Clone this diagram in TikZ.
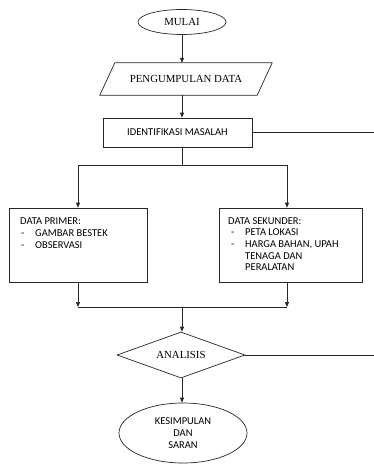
\documentclass[tikz,border=0pt]{standalone}
\usepackage{fontspec}
\newfontfamily\tnr{Liberation Serif}
\newfontfamily\calib{Carlito}
\usetikzlibrary{shapes.geometric,arrows.meta}
\tikzset{
  ln/.style={line width=0.7pt, draw=black!85},
  arr/.style={ln, -{Triangle[length=5pt,width=4pt]}},
  serifnode/.style={font={\tnr\fontsize{10.8}{13}\selectfont}},
  calnode/.style={font={\calib\fontsize{10.5}{11.7}\selectfont}},
  boxshape/.style={ln, rectangle, inner sep=0pt},
}
\begin{document}
\begin{tikzpicture}[x=1pt,y=-1pt]
\useasboundingbox (0,0) rectangle (374,464);
% MULAI
\node[ln, ellipse, minimum width=88pt, minimum height=25pt, inner sep=0pt, serifnode] (mulai) at (182,22) {MULAI};
% PENGUMPULAN DATA (parallelogram)
\node[minimum width=157pt, minimum height=32pt, inner sep=0pt, serifnode] (peng) at (186,79) {PENGUMPULAN DATA};
\draw[ln] ([xshift=-7.5pt]peng.south west) -- ([xshift=7.5pt]peng.north west) -- ([xshift=7.5pt]peng.north east) -- ([xshift=-7.5pt]peng.south east) -- cycle;
% IDENTIFIKASI MASALAH
\node[boxshape, minimum width=149pt, minimum height=29pt, calnode] (ident) at (177.5,132.5) {IDENTIFIKASI MASALAH};
\coordinate (identout) at (374,132.5);
% split
\coordinate (split) at (182,165);
\coordinate (splitL) at (78,165);
\coordinate (splitR) at (287,165);
% boxes
\node[boxshape, minimum width=138pt, minimum height=74pt] (prim) at (78,245) {};
\node[boxshape, minimum width=143pt, minimum height=74pt] (sek) at (290.5,245) {};
\node[calnode, anchor=north west, inner sep=0pt, align=left] (primtext) at (20,218)
  {DATA PRIMER:\\
   \hspace*{1pt}\makebox[14pt][l]{-}GAMBAR BESTEK\\
   \hspace*{1pt}\makebox[14pt][l]{-}OBSERVASI};
\node[calnode, anchor=north west, inner sep=0pt, align=left] (sektext) at (228,217)
  {DATA SEKUNDER:\\
   \hspace*{3pt}\makebox[14pt][l]{-}PETA LOKASI\\
   \hspace*{3pt}\makebox[14pt][l]{-}HARGA BAHAN, UPAH\\
   \hspace*{17pt}TENAGA DAN\\
   \hspace*{17pt}PERALATAN};
% merge
\coordinate (merge) at (182,307);
\coordinate (mergeL) at (78,307);
\coordinate (mergeR) at (287,307);
% ANALISIS
\node[ln, diamond, aspect=2.78, minimum width=128pt, minimum height=46pt, inner sep=0pt, serifnode] (anal) at (181,355) {ANALISIS};
\coordinate (analout) at (374,355);
% KESIMPULAN
\node[ln, ellipse, minimum width=128pt, minimum height=60pt, inner sep=0pt, calnode, align=center] (kes) at (183,433) {KESIMPULAN\\DAN\\SARAN};

% connectors
\draw[arr] (mulai.south -| split) -- (peng.north -| split);
\draw[arr] (peng.south -| split) -- (ident.north -| split);
\draw[ln] (ident.east) -- (identout);
\draw[ln] (ident.south -| split) -- (split);
\draw[ln] (splitL) -- (splitR);
\draw[arr] (splitL) -- (prim.north -| splitL);
\draw[arr] (splitR) -- (sek.north -| splitR);
\draw[arr] (prim.south -| mergeL) -- (mergeL);
\draw[arr] (sek.south -| mergeR) -- (mergeR);
\draw[ln] (mergeL) -- (mergeR);
\draw[arr] (merge) -- (anal.north -| merge);
\draw[ln] (anal.east) -- (analout);
\draw[arr] (anal.south -| merge) -- (kes.north -| merge);
\end{tikzpicture}
\end{document}
